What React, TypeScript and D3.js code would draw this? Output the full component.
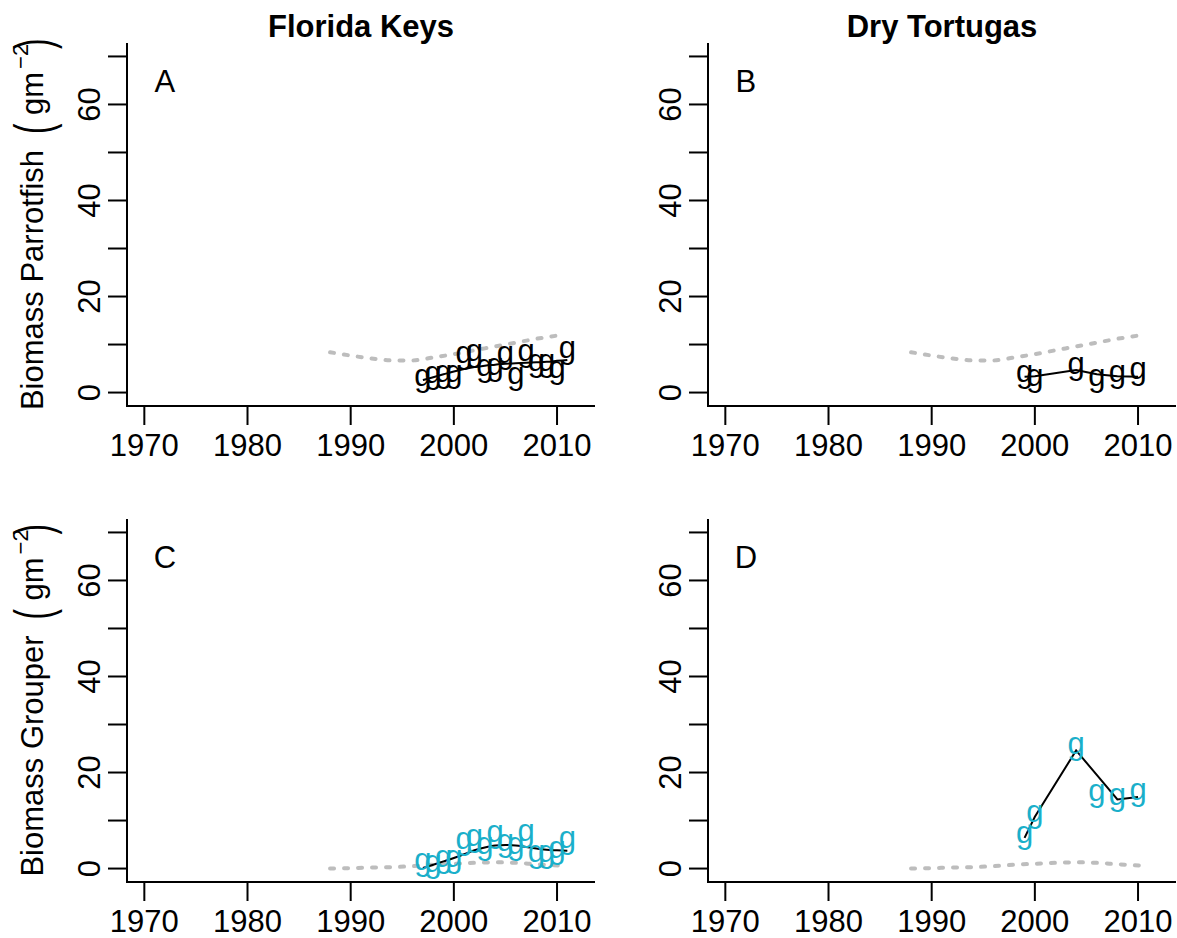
import React from "react";
import * as d3 from "d3";

const FONT = "'Liberation Sans', Arial, Helvetica, sans-serif";
const CYAN = "#1aafca";
const GRAY = "#bdbdbd";

const xTicks = [1970, 1980, 1990, 2000, 2010];
const yTicks = [0, 10, 20, 30, 40, 50, 60, 70];
const yTickLabels = [0, 20, 40, 60];

// Florida Keys
const fkYears = [1997, 1998, 1999, 2000, 2001, 2002, 2003, 2004, 2005, 2006, 2007, 2008, 2009, 2010, 2011];
const fkParrot = [2.3, 3.0, 3.3, 3.3, 7.2, 7.5, 4.4, 4.7, 7.2, 2.8, 7.5, 5.4, 5.4, 4.0, 8.2];
const fkParrotFit = [2.6, 3.2, 3.8, 4.4, 4.9, 5.3, 5.6, 5.8, 6.0, 6.1, 6.2, 6.3, 6.4, 6.6, 6.8];
const fkGrouper = [0.6, 0.3, 1.3, 1.4, 5.1, 5.8, 4.0, 6.5, 4.6, 4.0, 6.7, 2.4, 2.4, 3.1, 5.3];
const fkGrouperFit = [0.1, 0.8, 1.5, 2.2, 3.0, 3.8, 4.4, 4.8, 4.9, 4.8, 4.5, 4.2, 3.9, 3.8, 3.7];

// Dry Tortugas
const dtYears = [1999, 2000, 2004, 2006, 2008, 2010];
const dtParrot = [3.3, 2.3, 4.9, 2.3, 3.1, 3.8];
const dtParrotFit = [3.3, 3.4, 4.7, 3.8, 3.4, 3.3];
const dtGrouper = [6.4, 10.6, 24.8, 15.1, 14.2, 15.2];
const dtGrouperFit = [6.4, 10.8, 24.6, 19.5, 14.4, 14.9];

// model reference (grey dashed)
const modelYears = [1988, 1990, 1992, 1994, 1996, 1998, 2000, 2002, 2004, 2006, 2008, 2010.5];
const parrotModel = [8.4, 7.7, 7.1, 6.7, 6.7, 7.3, 8.0, 8.8, 9.6, 10.4, 11.2, 12.0];
const grouperModel = [0.0, 0.1, 0.2, 0.3, 0.5, 0.8, 1.0, 1.2, 1.3, 1.2, 0.9, 0.6];

const columnTitles = ["Florida Keys", "Dry Tortugas"];
const rowLabels = ["Biomass Parrotfish", "Biomass Grouper"];
const panelLetters = ["A", "B", "C", "D"];

const FS = 31;

function measure(text: string, size: number): number {
  try {
    const c = document.createElement("canvas").getContext("2d");
    if (c) {
      c.font = `${size}px 'Liberation Sans', Arial, sans-serif`;
      return c.measureText(text).width;
    }
  } catch (e) {}
  return text.length * size * 0.5;
}

type PanelProps = {
  x0: number; x1: number; yTop: number; yBot: number;
  years: number[]; values: number[]; fit: number[]; linearFit: boolean;
  model: number[]; letter: string; color: string;
};

function Panel(p: PanelProps) {
  const x = d3.scaleLinear().domain([1968.32, 2013.68]).range([p.x0, p.x1]);
  const y = d3.scaleLinear().domain([-2.8, 72.8]).range([p.yBot, p.yTop]);
  const modelLine = d3.line<number>()
    .x((_, i) => x(modelYears[i]))
    .y((d) => y(d))
    .curve(d3.curveMonotoneX);
  const fitLine = d3.line<number>()
    .x((_, i) => x(p.years[i]))
    .y((d) => y(d))
    .curve(p.linearFit ? d3.curveLinear : d3.curveMonotoneX);
  return (
    <g fontFamily={FONT}>
      <line x1={p.x0} x2={p.x0} y1={p.yTop} y2={p.yBot} stroke="#000" strokeWidth={2} />
      <line x1={p.x0 - 1} x2={p.x1} y1={p.yBot} y2={p.yBot} stroke="#000" strokeWidth={2} />
      {yTicks.map((t) => (
        <line key={"yt" + t} x1={p.x0 - 19} x2={p.x0} y1={y(t)} y2={y(t)} stroke="#000" strokeWidth={2} />
      ))}
      {yTickLabels.map((t) => (
        <text key={"yl" + t} transform={`translate(${p.x0 - 27},${y(t)}) rotate(-90)`} textAnchor="middle" fontSize={FS}>
          {t}
        </text>
      ))}
      {xTicks.map((t) => (
        <line key={"xt" + t} x1={x(t)} x2={x(t)} y1={p.yBot} y2={p.yBot + 19} stroke="#000" strokeWidth={2} />
      ))}
      {xTicks.map((t) => (
        <text key={"xl" + t} x={x(t)} y={p.yBot + 50} textAnchor="middle" fontSize={FS}>
          {t}
        </text>
      ))}
      <text x={x(1972)} y={p.yTop + 49} textAnchor="middle" fontSize={FS}>{p.letter}</text>
      <path d={modelLine(p.model) || ""} fill="none" stroke={GRAY} strokeWidth={4} strokeDasharray="4 10" strokeLinecap="round" />
      <path d={fitLine(p.fit) || ""} fill="none" stroke="#000" strokeWidth={2} />
      {p.values.map((v, i) => (
        <text key={"pt" + i} x={x(p.years[i])} y={y(v) + 0.155 * FS} textAnchor="middle" fontSize={FS} fill={p.color}>
          g
        </text>
      ))}
    </g>
  );
}

function YLabel({ cx, cy, label }: { cx: number; cy: number; label: string }) {
  const tw = measure(label, FS);
  const total = tw + 110;
  const start = -total / 2;
  const pOpen = start + tw + 21;
  const gm = start + tw + 35;
  const sup = start + tw + 81;
  const pClose = start + tw + 106;
  const parenScale = 1.69;
  return (
    <g transform={`translate(${cx},${cy}) rotate(-90)`} fontFamily={FONT}>
      <text x={start} y={0} fontSize={FS}>{label}</text>
      <g transform={`translate(${pOpen},-5.5) scale(1,${parenScale})`}>
        <text x={0} y={8} fontSize={FS} textAnchor="middle">(</text>
      </g>
      <text x={gm} y={0} fontSize={FS}>gm</text>
      <text x={sup} y={-15} fontSize={22}>{"\u22122"}</text>
      <g transform={`translate(${pClose},-5.5) scale(1,${parenScale})`}>
        <text x={0} y={8} fontSize={FS} textAnchor="middle">)</text>
      </g>
    </g>
  );
}

export default function App() {
  const colL = { x0: 127, x1: 595 };
  const colR = { x0: 708, x1: 1176 };
  const rowT = { yTop: 43, yBot: 406 };
  const rowB = { yTop: 519, yBot: 882 };
  return (
    <svg width={1177} height={938} style={{ position: "absolute", left: 0, top: 0, background: "#fff" }}>
      <rect width={1177} height={938} fill="#fff" />
      <text x={(colL.x0 + colL.x1) / 2} y={37} textAnchor="middle" fontFamily={FONT} fontWeight="bold" fontSize={31}>
        {columnTitles[0]}
      </text>
      <text x={(colR.x0 + colR.x1) / 2} y={37} textAnchor="middle" fontFamily={FONT} fontWeight="bold" fontSize={31}>
        {columnTitles[1]}
      </text>
      <YLabel cx={43} cy={225} label={rowLabels[0]} />
      <YLabel cx={43} cy={701} label={rowLabels[1]} />
      <Panel {...colL} {...rowT} years={fkYears} values={fkParrot} fit={fkParrotFit} linearFit={false} model={parrotModel} letter={panelLetters[0]} color="#000" />
      <Panel {...colR} {...rowT} years={dtYears} values={dtParrot} fit={dtParrotFit} linearFit={true} model={parrotModel} letter={panelLetters[1]} color="#000" />
      <Panel {...colL} {...rowB} years={fkYears} values={fkGrouper} fit={fkGrouperFit} linearFit={false} model={grouperModel} letter={panelLetters[2]} color={CYAN} />
      <Panel {...colR} {...rowB} years={dtYears} values={dtGrouper} fit={dtGrouperFit} linearFit={true} model={grouperModel} letter={panelLetters[3]} color={CYAN} />
    </svg>
  );
}
